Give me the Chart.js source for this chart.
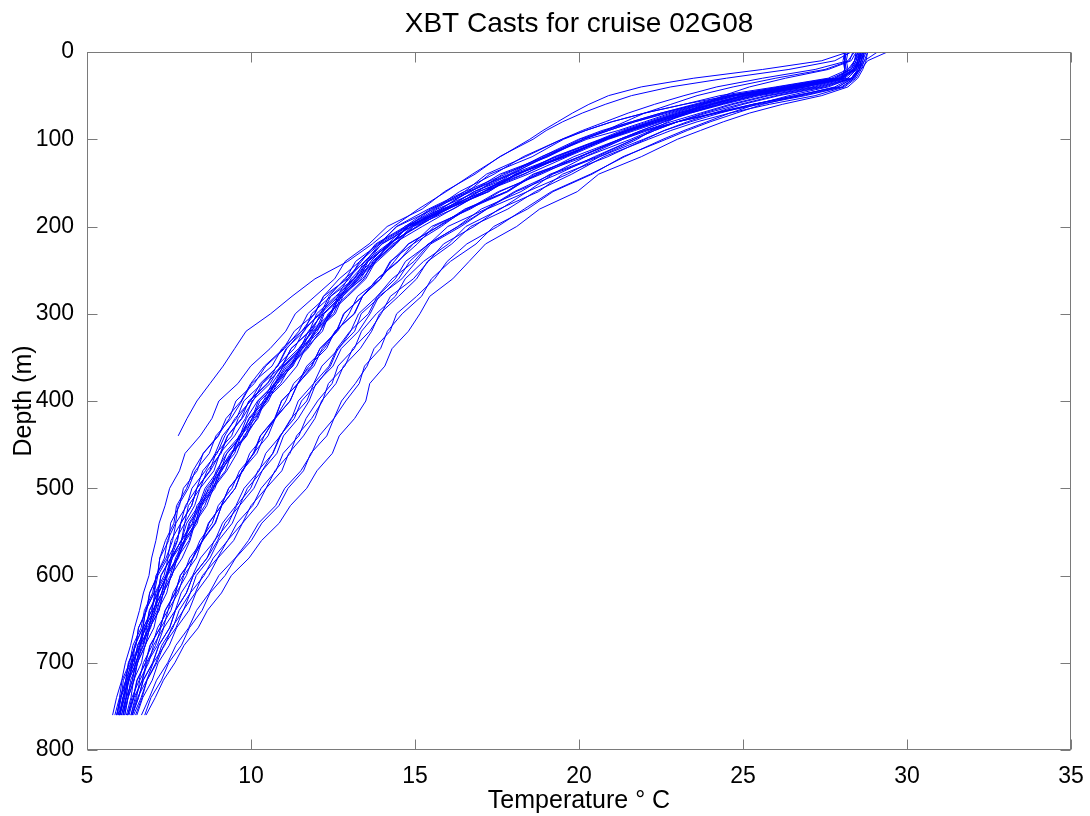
<!DOCTYPE html>
<html><head><meta charset="utf-8">
<script src="https://cdn.jsdelivr.net/npm/chart.js@4"></script>
<style>html,body{margin:0;padding:0;background:#fff;}canvas{display:block;}</style>
</head><body>
<canvas id="c" width="1090" height="816"></canvas>
<script>
// Depth levels (m) shared by all casts
const depths = [0,10,20,30,40,50,60,70,80,90,100,120,140,160,180,200,220,240,260,280,300,320,340,360,380,400,420,440,460,480,500,520,540,560,580,600,620,640,660,680,700,720,740,760];

// Temperature (deg C) of each XBT cast at the depth levels above (null = cast ended)
const cast01 = [28.6,28.5,28.4,28.0,26.6,25.0,24.0,23.1,22.3,21.5,20.8,19.6,18.1,17.25,15.95,15.1,14.2,13.8,13.4,12.7,12.45,12.1,11.55,11.28,10.72,10.45,10.13,9.69,9.5,9.06,8.85,8.45,8.31,7.97,7.79,7.45,7.35,7.07,6.94,6.66,6.55,6.33,6.25,6.1];
const cast02 = [28.1,28.1,28.15,28.05,26.9,25.3,24.3,23.3,22.4,21.5,20.7,19.28,18.18,16.95,16.02,14.8,14.25,13.57,13.3,12.75,12.2,11.96,11.58,11.04,10.75,10.22,10.03,9.7,9.26,9.07,8.65,8.44,8.11,7.96,7.6,7.44,7.17,7.05,6.76,6.63,6.39,6.29,6.1,6.0];
const cast03 = [28.5,28.45,28.3,27.7,26.1,24.6,23.6,22.6,21.7,20.9,20.14,19.01,17.92,16.66,15.78,14.9,14.0,13.46,13.15,12.58,12.0,11.78,11.22,10.96,10.49,9.93,9.71,9.28,9.06,8.76,8.35,8.19,7.86,7.76,7.56,7.26,7.15,6.9,6.8,6.55,6.45,6.22,6.14,6.0];
const cast04 = [28.7,28.6,28.55,28.4,28.0,26.8,25.3,24.1,23.0,22.0,21.24,20.06,18.6,17.79,16.52,15.7,14.79,14.37,13.95,13.25,12.99,12.64,12.1,11.84,11.3,11.06,10.74,10.29,10.1,9.65,9.42,9.0,8.82,8.44,8.22,7.84,7.7,7.39,7.23,6.92,6.78,6.53,6.42,6.24];
const cast05 = [28.55,28.5,28.45,28.2,26.9,25.4,24.3,23.4,22.5,21.7,20.9,19.65,18.45,17.1,16.15,15.22,14.32,13.8,13.5,12.95,12.38,12.18,11.65,11.4,10.96,10.42,10.21,9.78,9.57,9.26,8.85,8.65,8.29,8.14,7.9,7.56,7.43,7.16,7.04,6.77,6.66,6.42,6.34,6.2];
const cast06 = [28.4,28.2,27.2,25.6,24.2,23.2,22.3,21.5,20.8,20.1,19.48,18.3,17.41,16.36,15.58,14.45,13.9,13.19,12.89,12.31,11.73,11.46,11.02,10.45,10.1,9.54,9.34,8.99,8.54,8.36,7.94,7.82,7.55,7.49,7.22,7.15,6.91,6.82,6.57,6.49,6.27,6.19,6.01,5.91];
const cast07 = [28.2,27.4,25.6,23.5,21.9,20.9,20.3,19.8,19.35,18.9,18.5,17.6,16.75,15.95,15.1,14.35,13.7,12.95,11.95,11.25,10.6,9.85,9.5,9.15,8.75,8.35,8.05,7.78,null,null,null,null,null,null,null,null,null,null,null,null,null,null,null,null];
const cast08 = [28.6,28.55,28.4,27.9,26.4,24.8,23.8,22.9,22.1,21.3,20.65,19.25,18.15,16.8,15.9,14.75,14.25,13.55,13.05,12.75,12.2,11.75,11.5,10.97,10.73,10.2,9.86,9.66,9.19,8.99,8.6,8.4,8.04,7.88,7.56,7.4,7.1,6.98,6.71,6.59,6.34,6.22,6.04,5.95];
const cast09 = [29.4,28.8,28.6,28.3,27.3,25.8,24.7,23.8,23.0,22.3,21.68,20.47,19.35,18.08,17.19,16.32,15.4,14.84,14.5,13.95,13.36,13.16,12.65,12.42,12.02,11.54,11.32,10.88,10.66,10.34,9.89,9.65,9.21,8.98,8.66,8.24,8.03,7.7,7.52,7.19,7.01,6.72,6.57,6.38];
const cast10 = [28.8,28.7,28.6,28.45,28.1,27.2,25.8,24.6,23.6,22.8,22.12,20.76,19.78,18.67,17.83,16.7,16.12,15.38,15.05,14.5,13.92,13.68,13.33,12.82,12.59,12.15,11.95,11.6,11.15,10.94,10.46,10.19,9.74,9.47,8.99,8.71,8.32,8.11,7.73,7.51,7.17,6.99,6.7,6.52];
const cast11 = [28.45,28.4,28.3,27.8,26.2,24.5,23.5,22.5,21.6,20.8,20.04,18.98,17.59,16.71,15.51,14.78,13.93,13.49,12.85,12.38,12.12,11.54,11.09,10.82,10.28,9.99,9.51,9.2,8.97,8.53,8.35,8.0,7.86,7.56,7.46,7.16,7.05,6.79,6.7,6.45,6.34,6.11,6.04,5.9];
const cast12 = [28.15,28.1,28.1,28.0,26.7,25.1,24.1,23.2,22.4,21.6,20.85,19.5,18.1,17.25,16.0,14.93,14.43,13.85,13.25,12.8,12.57,11.97,11.7,11.15,10.79,10.53,10.08,9.87,9.42,9.09,8.9,8.5,8.36,8.01,7.75,7.59,7.32,7.19,6.91,6.78,6.53,6.43,6.25,6.15];
const cast13 = [28.8,28.75,28.65,28.5,28.2,27.4,26.2,25.2,24.4,23.7,23.0,21.9,20.6,19.95,18.8,18.1,17.15,16.65,16.15,15.45,15.15,14.8,14.3,14.08,13.62,13.5,13.16,12.69,12.48,12.01,11.7,11.2,10.86,10.32,9.94,9.4,9.1,8.67,8.39,7.96,7.68,7.33,7.08,6.8];
const cast14 = [28.6,28.55,28.5,28.3,27.4,26.0,24.9,23.9,23.0,22.3,21.68,20.54,19.12,18.23,17.02,16.3,15.43,14.97,14.3,13.85,13.58,13.02,12.62,12.38,11.91,11.7,11.22,10.9,10.67,10.21,9.99,9.56,9.31,8.88,8.66,8.24,8.03,7.69,7.52,7.19,7.0,6.71,6.57,6.38];
const cast15 = [28.35,28.25,27.5,26.0,24.7,23.6,22.8,22.0,21.4,20.8,20.14,19.06,17.67,16.91,15.68,14.88,13.98,13.56,13.15,12.43,12.17,11.8,11.22,10.94,10.35,10.06,9.73,9.29,9.09,8.66,8.45,8.09,7.98,7.69,7.55,7.25,7.17,6.91,6.8,6.54,6.44,6.23,6.15,6.0];
const cast16 = [28.65,28.55,28.45,28.1,26.9,25.3,24.3,23.3,22.6,21.9,21.24,20.01,18.85,17.54,16.62,15.72,14.81,14.27,13.95,13.4,12.82,12.62,12.1,11.86,11.44,10.93,10.72,10.28,10.07,9.75,9.32,9.1,8.7,8.51,8.23,7.85,7.68,7.38,7.23,6.93,6.79,6.52,6.41,6.24];
const cast17 = [28.1,28.05,28.1,28.0,26.4,24.6,23.2,22.0,21.0,20.2,19.48,18.37,17.18,16.51,15.41,14.43,13.93,13.32,12.69,12.21,11.95,11.32,10.99,10.41,9.99,9.7,9.24,9.01,8.55,8.23,8.04,7.73,7.65,7.39,7.22,7.15,6.91,6.81,6.57,6.49,6.26,6.18,6.01,5.91];
const cast18 = [28.7,28.65,28.55,28.35,27.9,26.6,25.3,24.3,23.4,22.6,21.97,20.63,19.65,18.42,17.61,16.55,16.02,15.26,14.7,14.4,13.82,13.37,13.15,12.65,12.47,12.03,11.68,11.46,10.98,10.76,10.31,10.05,9.57,9.29,8.85,8.57,8.15,7.94,7.58,7.37,7.02,6.82,6.54,6.37];
const cast19 = [28.6,28.5,28.35,27.95,26.5,24.95,23.9,23.0,22.2,21.45,20.75,19.57,18.07,17.1,15.83,15.05,14.2,13.78,13.15,12.7,12.45,11.89,11.47,11.21,10.7,10.43,9.96,9.65,9.43,8.98,8.8,8.41,8.24,7.89,7.75,7.41,7.28,7.0,6.89,6.62,6.5,6.26,6.19,6.05];
const cast20 = [28.3,27.8,26.4,24.5,22.8,21.6,20.8,20.1,19.5,19.0,18.6,17.58,16.83,15.9,15.22,14.15,13.6,12.87,12.55,11.95,11.35,11.06,10.58,9.99,9.6,9.02,8.81,8.45,7.99,7.82,7.52,7.38,7.2,7.1,6.97,6.89,6.72,6.6,6.45,6.33,6.17,6.06,5.9,5.78];
const cast21 = [28.65,28.6,28.5,28.3,27.6,26.4,25.4,24.6,23.9,23.2,22.56,21.39,20.35,19.16,18.33,17.52,16.58,15.98,15.6,15.05,14.44,14.24,13.75,13.54,13.18,12.76,12.53,12.08,11.85,11.52,11.03,10.75,10.23,9.92,9.52,9.02,8.73,8.34,8.1,7.71,7.46,7.12,6.9,6.66];
const cast22 = [28.55,28.45,28.35,28.0,26.65,25.1,24.1,23.2,22.3,21.5,20.8,19.45,18.05,17.2,15.95,14.88,14.38,13.8,13.2,12.75,12.52,11.92,11.65,11.1,10.74,10.48,10.03,9.82,9.37,9.04,8.85,8.45,8.31,7.96,7.7,7.54,7.27,7.14,6.86,6.73,6.48,6.38,6.2,6.1];
const cast23 = [28.2,28.15,28.2,28.1,27.1,25.5,24.4,23.4,22.6,21.9,21.24,19.84,18.78,17.59,16.69,15.5,14.94,14.24,13.95,13.4,12.84,12.6,12.23,11.7,11.43,10.93,10.74,10.4,9.96,9.76,9.32,9.09,8.72,8.53,8.13,7.93,7.62,7.47,7.15,6.99,6.72,6.59,6.37,6.24];
const cast24 = [28.5,28.4,28.25,27.8,26.3,24.7,23.7,22.7,21.7,20.9,20.14,18.86,17.87,16.61,15.78,14.68,14.18,13.46,12.95,12.63,12.07,11.6,11.32,10.78,10.51,9.96,9.61,9.41,8.93,8.74,8.35,8.19,7.86,7.75,7.47,7.35,7.07,6.97,6.72,6.62,6.38,6.27,6.09,6.0];
const cast25 = [29.1,28.7,28.55,28.35,27.5,26.1,25.0,24.1,23.3,22.6,22.02,20.88,19.5,18.77,17.56,16.8,15.87,15.41,14.95,14.25,13.97,13.62,13.1,12.86,12.36,12.18,11.85,11.39,11.19,10.73,10.46,10.0,9.74,9.28,8.98,8.52,8.3,7.93,7.71,7.34,7.13,6.83,6.65,6.42];
const cast26 = [28.6,28.5,28.4,28.05,26.8,25.2,24.2,23.3,22.4,21.6,20.85,19.43,18.33,17.1,16.17,14.95,14.4,13.72,13.45,12.9,12.35,12.11,11.73,11.19,10.9,10.37,10.18,9.85,9.41,9.22,8.8,8.59,8.26,8.11,7.75,7.59,7.32,7.2,6.91,6.78,6.54,6.44,6.25,6.15];
const cast27 = [28.45,28.3,27.6,26.3,25.2,24.4,23.8,23.2,22.7,22.2,21.78,20.62,19.2,18.43,17.19,16.4,15.48,15.04,14.6,13.9,13.63,13.28,12.75,12.5,11.98,11.77,11.44,10.99,10.79,10.34,10.09,9.65,9.43,9.01,8.75,8.33,8.15,7.81,7.62,7.28,7.1,6.83,6.68,6.48];
const cast28 = [28.55,28.5,28.4,27.85,26.4,24.8,23.75,22.8,22.0,21.2,20.24,18.94,17.95,16.81,15.95,14.78,14.23,13.53,13.25,12.68,12.12,11.86,11.45,10.9,10.58,10.03,9.83,9.5,9.05,8.87,8.45,8.28,7.98,7.88,7.56,7.44,7.19,7.09,6.82,6.71,6.48,6.39,6.2,6.1];
const cast29 = [28.75,28.65,28.55,28.4,28.05,26.9,25.5,24.2,23.0,22.1,21.34,20.01,18.65,17.84,16.62,15.58,15.07,14.47,13.85,13.4,13.16,12.56,12.3,11.76,11.42,11.19,10.74,10.52,10.07,9.73,9.52,9.1,8.92,8.53,8.23,8.03,7.72,7.56,7.25,7.09,6.81,6.68,6.47,6.34];
const cast30 = [28.5,28.4,28.2,27.6,26.0,24.3,23.2,22.0,21.0,20.2,19.53,18.57,17.28,16.61,15.46,14.7,13.8,13.37,12.94,12.21,11.93,11.55,10.94,10.64,10.02,9.72,9.39,8.93,8.73,8.3,8.09,7.78,7.7,7.45,7.36,7.11,7.04,6.79,6.7,6.47,6.38,6.18,6.11,5.96];
const cast31 = [28.6,28.55,28.45,28.2,27.2,25.7,24.6,23.7,22.8,22.0,21.34,20.18,18.72,17.79,16.55,15.8,14.94,14.5,13.85,13.4,13.14,12.58,12.17,11.92,11.43,11.19,10.72,10.4,10.18,9.72,9.52,9.11,8.9,8.51,8.33,7.95,7.78,7.47,7.33,7.03,6.88,6.61,6.51,6.34];
const cast32 = [28.1,28.1,28.1,28.0,26.4,24.7,23.6,22.5,21.6,20.7,19.99,18.86,17.77,16.51,15.63,14.75,13.85,13.31,13.0,12.43,11.85,11.63,11.07,10.81,10.34,9.78,9.56,9.13,8.91,8.61,8.2,8.04,7.71,7.61,7.41,7.11,7.0,6.75,6.65,6.4,6.3,6.07,5.99,5.85];
const cast33 = [28.7,28.6,28.55,28.3,27.8,26.7,25.6,24.8,24.0,23.3,22.66,21.34,20.4,19.21,18.43,17.4,16.86,16.08,15.5,15.2,14.61,14.16,13.95,13.46,13.3,12.89,12.53,12.31,11.82,11.6,11.13,10.85,10.33,10.01,9.53,9.21,8.75,8.51,8.12,7.88,7.49,7.27,6.95,6.76];
const cast34 = [28.6,28.5,28.4,28.0,26.5,25.0,24.0,23.0,22.2,21.4,20.75,19.5,18.3,16.95,16.0,15.07,14.17,13.65,13.35,12.8,12.23,12.03,11.5,11.25,10.81,10.27,10.06,9.63,9.42,9.11,8.7,8.5,8.14,7.99,7.75,7.41,7.28,7.01,6.89,6.62,6.51,6.27,6.19,6.05];
const cast35 = [28.7,28.6,28.5,28.35,27.9,26.6,25.3,24.2,23.0,22.2,21.58,20.2,19.18,18.03,17.16,16.0,15.43,14.71,14.4,13.85,13.28,13.04,12.68,12.16,11.91,11.44,11.24,10.9,10.45,10.25,9.79,9.54,9.13,8.9,8.46,8.22,7.87,7.69,7.34,7.15,6.84,6.69,6.43,6.28];
const cast36 = [28.65,28.55,28.45,28.0,26.7,25.05,24.05,23.1,22.2,21.4,20.7,19.35,17.95,17.1,15.85,14.78,14.28,13.7,13.1,12.65,12.42,11.82,11.55,11.0,10.64,10.38,9.93,9.72,9.27,8.94,8.75,8.35,8.21,7.86,7.6,7.44,7.17,7.04,6.76,6.63,6.38,6.28,6.1,6.0];

const casts = [cast01,cast02,cast03,cast04,cast05,cast06,cast07,cast08,cast09,cast10,cast11,cast12,
  cast13,cast14,cast15,cast16,cast17,cast18,cast19,cast20,cast21,cast22,cast23,cast24,
  cast25,cast26,cast27,cast28,cast29,cast30,cast31,cast32,cast33,cast34,cast35,cast36];

const xTicks = [5,10,15,20,25,30,35];
const yTicks = [0,100,200,300,400,500,600,700,800];
const titleText = 'XBT Casts for cruise 02G08';
const xLabel = 'Temperature \u00B0 C';
const yLabel = 'Depth (m)';

const FONT = '"Liberation Sans", Arial, Helvetica, sans-serif';

const datasets = casts.map((c, i) => ({
  label: 'Cast ' + (i + 1),
  data: c.map((t, j) => (t === null ? null : { x: t, y: depths[j] })).filter(p => p),
  showLine: true,
  borderColor: '#0000ff',
  borderWidth: 1,
  pointRadius: 0,
  pointHoverRadius: 0,
  fill: false,
  tension: 0
}));

const framePlugin = {
  id: 'frame',
  afterDatasetsDraw(chart) {
    const { ctx, chartArea: a, scales } = chart;
    ctx.save();
    ctx.strokeStyle = '#7a7a7a';
    ctx.lineWidth = 1;
    const L = Math.round(a.left) + 0.5, R = Math.round(a.right) - 0.5;
    const T = Math.round(a.top) + 0.5, B = Math.round(a.bottom) - 0.5;
    ctx.strokeRect(L, T, R - L, B - T);
    const tl = 10;
    ctx.beginPath();
    scales.x.ticks.forEach(t => {
      const px = Math.round(scales.x.getPixelForValue(t.value)) + 0.5;
      ctx.moveTo(px, B); ctx.lineTo(px, B - tl);
      ctx.moveTo(px, T); ctx.lineTo(px, T + tl);
    });
    scales.y.ticks.forEach(t => {
      const py = Math.round(scales.y.getPixelForValue(t.value)) + 0.5;
      ctx.moveTo(L, py); ctx.lineTo(L + tl, py);
      ctx.moveTo(R, py); ctx.lineTo(R - tl, py);
    });
    ctx.stroke();
    ctx.restore();
  }
};

new Chart(document.getElementById('c'), {
  type: 'scatter',
  data: { datasets },
  plugins: [framePlugin],
  options: {
    responsive: false,
    animation: false,
    devicePixelRatio: 1,
    layout: { padding: { left: 0, right: 19, top: 0, bottom: 0 } },
    plugins: {
      legend: { display: false },
      tooltip: { enabled: false },
      title: { display: false }
    },
    scales: {
      xTop: {
        type: 'linear',
        position: 'top',
        min: 5, max: 35,
        afterFit: s => { s.height = 52; },
        grid: { display: false },
        border: { display: false },
        ticks: { display: false },
        title: {
          display: true, text: titleText, color: '#000',
          font: { family: FONT, size: 28, weight: 'normal', lineHeight: 1.2 },
          padding: { top: 7, bottom: 0 }
        }
      },
      x: {
        type: 'linear',
        position: 'bottom',
        min: 5, max: 35,
        afterBuildTicks: s => { s.ticks = xTicks.map(v => ({ value: v })); },
        afterFit: s => { s.height = 66; },
        grid: { display: false },
        border: { display: false },
        ticks: {
          color: '#000', padding: 5, autoSkip: false, maxRotation: 0,
          font: { family: FONT, size: 23 }
        },
        title: {
          display: true, text: xLabel, color: '#000',
          font: { family: FONT, size: 25, lineHeight: 1.2 },
          padding: { top: 0, bottom: 0 }
        }
      },
      y: {
        type: 'linear',
        reverse: true,
        min: 0, max: 800,
        afterBuildTicks: s => { s.ticks = yTicks.map(v => ({ value: v })); },
        afterFit: s => { s.width = 87; },
        grid: { display: false },
        border: { display: false },
        ticks: {
          color: '#000', padding: 5, autoSkip: false, crossAlign: 'near',
          font: { family: FONT, size: 23 }
        },
        title: {
          display: true, text: yLabel, color: '#000',
          font: { family: FONT, size: 25, lineHeight: 1.2 },
          padding: { top: 9, bottom: 0 }
        }
      }
    }
  }
});
</script>
</body></html>
